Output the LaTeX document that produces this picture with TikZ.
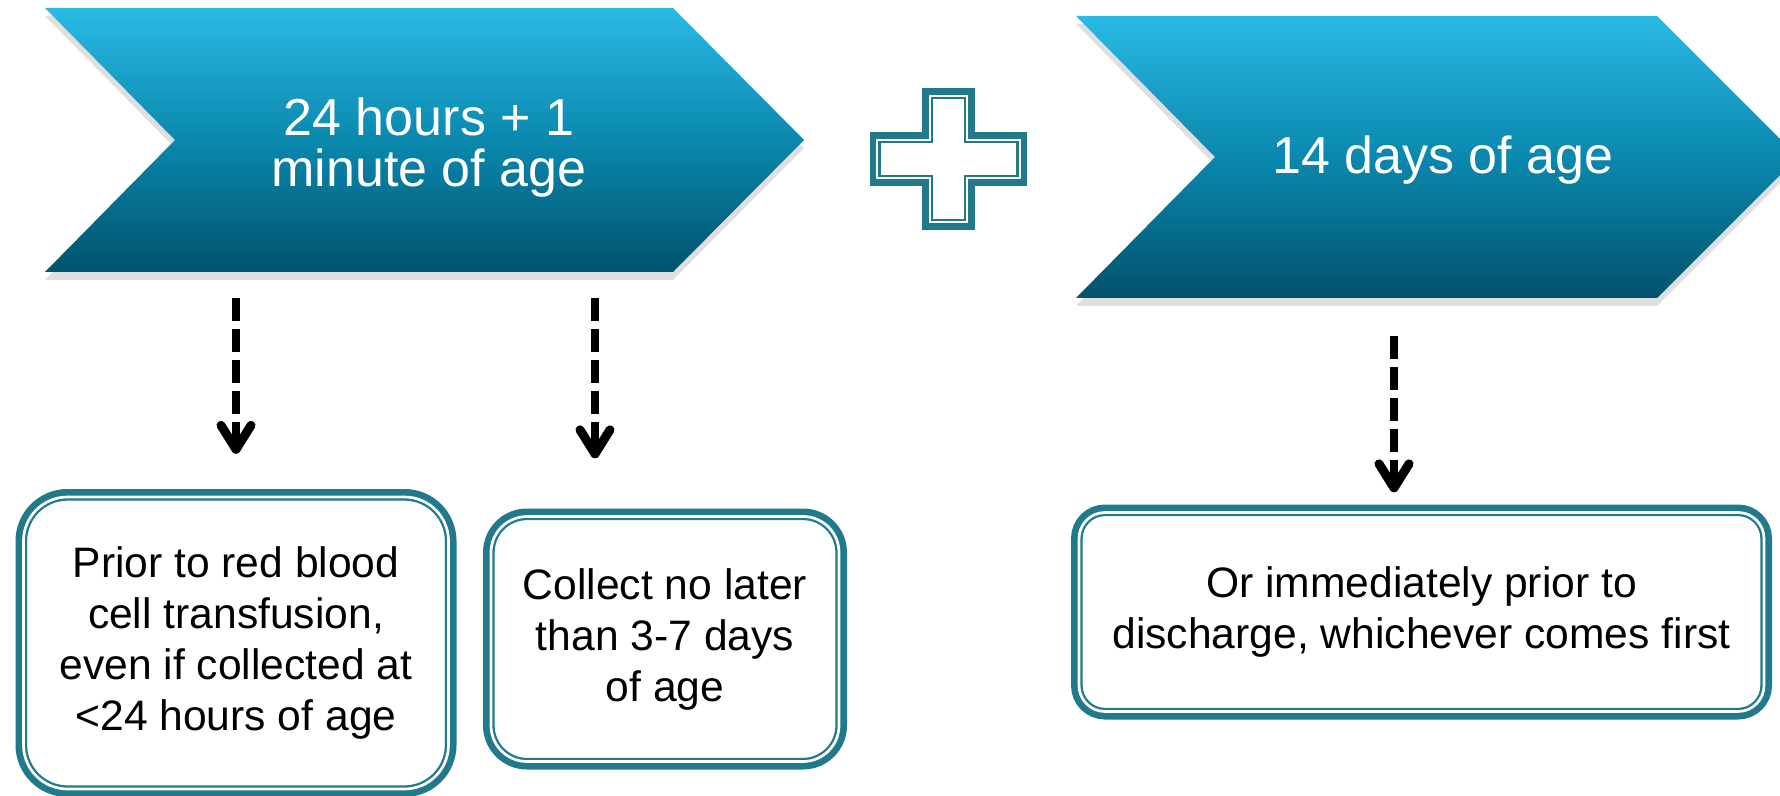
\documentclass[tikz,border=0pt]{standalone}
\usepackage{fontspec}
\setmainfont{Liberation Sans}
\usetikzlibrary{positioning,arrows.meta,shadows}

\definecolor{chevtop}{RGB}{42,186,228}
\definecolor{chevmid}{RGB}{10,136,174}
\definecolor{chevbot}{RGB}{2,82,108}
\definecolor{tealline}{RGB}{33,122,140}

\begin{document}
\begin{tikzpicture}[
        x=0.5pt, y=-0.5pt,
        chevron/.style={top color=chevtop, bottom color=chevbot, middle color=chevmid,
          drop shadow={shadow xshift=0pt, shadow yshift=-4pt, opacity=0.25}},
        headtext/.style={text=white, align=center, font=\fontsize{26}{25.5}\selectfont},
        notebox/.style={draw=tealline, line width=1.15pt, double=white, double distance=1.35pt,
          preaction={draw=tealline, line width=8pt}, fill=white, align=center,
          inner sep=0pt, font=\fontsize{21.3}{25.5}\selectfont},
        dasharrow/.style={line width=4pt, dash pattern=on 11.5pt off 4pt,
          -{Straight Barb[length=12pt, width=15pt, line width=4.5pt, round]}}
      ]

      \useasboundingbox (0,0) rectangle (1780,796);

      % the two chevrons
      \path[chevron] (45,8) -- (673,8) -- (804,140) -- (673,272) -- (45,272) -- (175,140) -- cycle;
      \path[chevron] (1076,16) -- (1657,16) -- (1798,157) -- (1657,298) -- (1076,298) -- (1215,157) -- cycle;

      \node[headtext] (day1) at (429,148) {24 hours + 1\\minute of age};
      \node[headtext] (day14) at (1443,160) {14 days of age};

      % plus sign, thick outline then thin one
      \foreach \a/\b/\c/\d/\w in {23/67.5/75.5/23.5/3.25, 16.5/61/69/17/1.15}
        \draw[tealline, line width=\w pt, shift={(948.5,159)}]
          (-\a,-\b) -- (\a,-\b) -- (\a,-\d) -- (\c,-\d) -- (\c,\d) -- (\a,\d) -- (\a,\b)
          -- (-\a,\b) -- (-\a,\d) -- (-\c,\d) -- (-\c,-\d) -- (-\a,-\d) -- cycle;

      \node[notebox, minimum width=212.5pt, minimum height=146pt, rounded corners=22pt]
        (prior) at (236,643) {Prior to red blood\\cell transfusion,\\even if collected at\\<24 hours of age};
      \node[notebox, minimum width=174pt, minimum height=122.5pt, rounded corners=18pt]
        (collect) at (665,639) {Collect no later\\than 3-7 days\\of age};
      \node[notebox, minimum width=342.5pt, minimum height=99.5pt, rounded corners=13pt]
        (discharge) at (1421.5,612) {Or immediately prior to\\discharge, whichever comes first};

      % dashed arrows
      \coordinate (s1) at (236,298);
      \coordinate (s2) at (595,298);
      \coordinate (s3) at (1394,336);

      \draw[dasharrow, shorten >=21pt] (s1) -- (s1 |- prior.north);
      \draw[dasharrow, shorten >=28.5pt] (s2) -- (s2 |- collect.north);
      \draw[dasharrow, shorten >=9.5pt] (s3) -- (s3 |- discharge.north);

    \end{tikzpicture}
\end{document}
